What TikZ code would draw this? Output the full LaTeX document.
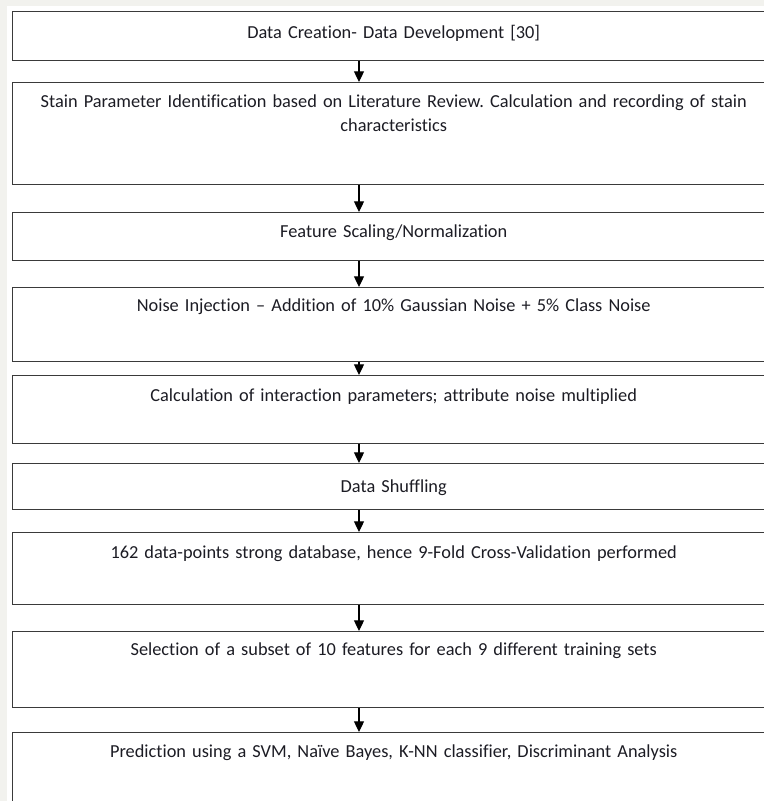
\documentclass[tikz,border=0pt]{standalone}
\usepackage{fontspec}
\setmainfont{Carlito}[Ligatures=NoCommon]
\frenchspacing
\usetikzlibrary{arrows.meta}

\definecolor{pagegray}{RGB}{242,242,238}
\definecolor{boxline}{RGB}{58,58,58}
\definecolor{inktext}{RGB}{28,28,36}

\begin{document}
\begin{tikzpicture}[x=0.75pt,y=0.75pt,yscale=-1,xscale=1,
    stagebox/.style={draw=boxline, line width=1.1pt, fill=white, anchor=north west,
        inner xsep=0pt, inner ysep=0pt, text width=571.5pt, align=center,
        text=inktext, font=\fontsize{13.75}{18}\selectfont},
    flowarrow/.style={draw=black, line width=0.9pt, -{Triangle[width=7.5pt,length=8pt]}}]
    \useasboundingbox (0,0) rectangle (764,801);
    \clip (0,0) rectangle (764,801);
    %page and margins
    \fill [pagegray] (0,0) rectangle (764,801);
    \fill [white] (7,6) rectangle (764,801);
    %column of the arrows
    \coordinate (ax) at (359,0);
    
    %Shape: Rectangle [data creation]
    \node [stagebox, text height=20.25pt, text depth=16.5pt] (creation) at (12,11) {Data Creation- Data Development [30]};
    %Shape: Rectangle [stain parameters]
    \node [stagebox, text height=18.75pt, text depth=57.75pt] (stain) at (12,82) {Stain Parameter Identification based on Literature Review. Calculation and recording of stain\\ characteristics};
    %Shape: Rectangle [scaling]
    \node [stagebox, text height=18.75pt, text depth=17.25pt] (scaling) at (12,212) {Feature Scaling/Normalization};
    %Shape: Rectangle [noise injection]
    \node [stagebox, text height=18pt, text depth=37.5pt] (noise) at (12,287) {Noise Injection -- Addition of 10\% Gaussian Noise + 5\% Class Noise};
    %Shape: Rectangle [interaction parameters]
    \node [stagebox, text height=19.5pt, text depth=31.5pt] (interact) at (12,375) {Calculation of interaction parameters; attribute noise multiplied};
    %Shape: Rectangle [shuffling]
    \node [stagebox, text height=21.75pt, text depth=12.75pt] (shuffle) at (12,463) {Data Shuffling};
    %Shape: Rectangle [cross validation]
    \node [stagebox, text height=19.5pt, text depth=34.5pt] (crossval) at (12,532) {162 data-points strong database, hence 9-Fold Cross-Validation performed};
    %Shape: Rectangle [feature subset]
    \node [stagebox, text height=18pt, text depth=39pt] (subset) at (12,631) {Selection of a subset of 10 features for each 9 different training sets};
    %Shape: Rectangle [prediction]
    \node [stagebox, text height=18.75pt, text depth=54.75pt] (predict) at (12,732) {Prediction using a SVM, Naïve Bayes, K-NN classifier, Discriminant Analysis};
    
    %Straight Lines [arrows]
    \draw [flowarrow] (creation.south -| ax) -- (stain.north -| ax);
    \draw [flowarrow] (stain.south -| ax) -- (scaling.north -| ax);
    \draw [flowarrow] (scaling.south -| ax) -- (noise.north -| ax);
    \draw [flowarrow] (noise.south -| ax) -- (interact.north -| ax);
    \draw [flowarrow] (interact.south -| ax) -- (shuffle.north -| ax);
    \draw [flowarrow] (shuffle.south -| ax) -- (crossval.north -| ax);
    \draw [flowarrow] (crossval.south -| ax) -- (subset.north -| ax);
    \draw [flowarrow] (subset.south -| ax) -- (predict.north -| ax);
    
\end{tikzpicture}
\end{document}
